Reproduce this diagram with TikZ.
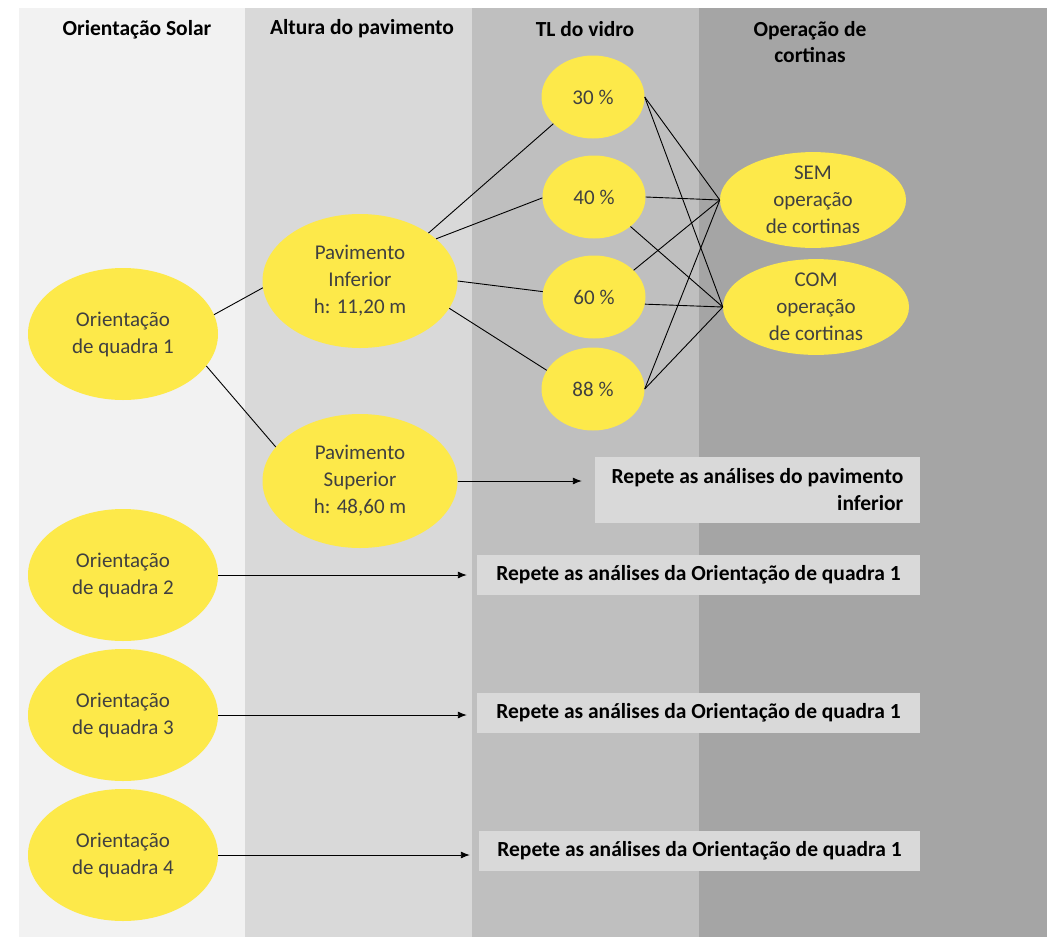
\documentclass[tikz,border=0pt]{standalone}
\usepackage{fontspec}
\setmainfont{Carlito}
\usetikzlibrary{shapes.geometric,arrows.meta}
\definecolor{bandA}{HTML}{F2F2F2}
\definecolor{bandB}{HTML}{D9D9D9}
\definecolor{bandC}{HTML}{BFBFBF}
\definecolor{bandD}{HTML}{A5A5A5}
\definecolor{yel}{HTML}{FDE94A}
\definecolor{txt}{HTML}{404040}
\definecolor{boxc}{HTML}{D9D9D9}
\tikzset{
  yelnode/.style={ellipse, fill=yel, inner sep=0pt, text=txt, align=center, font=\fontsize{21}{27}\selectfont},
  quadra/.style={yelnode, minimum width=190pt, minimum height=132pt},
  pav/.style={yelnode, minimum width=195pt, minimum height=134pt},
  tl/.style={yelnode, minimum width=103pt, minimum height=83pt},
  cort/.style={yelnode, minimum width=186pt, minimum height=91pt},
  header/.style={font=\bfseries\fontsize{21.5}{26}\selectfont, align=center, text=black},
  repbox/.style={fill=boxc, inner sep=0pt, font=\bfseries\fontsize{21.5}{27}\selectfont, text=black},
  link/.style={draw=black, line width=0.9pt},
  arr/.style={draw=black, line width=0.9pt, -{Latex[length=9pt,width=7pt]}}
}
\begin{document}
\begin{tikzpicture}[x=1pt,y=-1pt]
\useasboundingbox (0,0) rectangle (1047,937);
% bands
\fill[bandA] (19,8) rectangle (245,937);
\fill[bandB] (245,8) rectangle (472,937);
\fill[bandC] (472,8) rectangle (699,937);
\fill[bandD] (699,8) rectangle (1047,937);
% headers
\node[header] (h1) at (137,30) {Orientação Solar};
\node[header] (h2) at (362,29) {Altura do pavimento};
\node[header] (h3) at (585,29) {TL do vidro};
\node[header] (h4) at (810,42) {Operação de\\cortinas};
% ellipses
\node[quadra] (q1) at (123,334) {Orientação\\de quadra 1};
\node[quadra] (q2) at (123,575) {Orientação\\de quadra 2};
\node[quadra] (q3) at (123,715) {Orientação\\de quadra 3};
\node[quadra] (q4) at (123,855) {Orientação\\de quadra 4};
\node[pav] (pi) at (360,281) {Pavimento\\Inferior\\h: 11,20 m};
\node[pav] (ps) at (360,481) {Pavimento\\Superior\\h: 48,60 m};
\node[tl] (t30) at (593,97) {30 \%};
\node[tl] (t40) at (594,197) {40 \%};
\node[tl] (t60) at (594,297) {60 \%};
\node[tl] (t88) at (593,389) {88 \%};
\node[cort] (sem) at (813,200) {SEM\\operação\\de cortinas};
\node[cort] (com) at (816,307) {COM\\operação\\de cortinas};
% boxes
\node[repbox, minimum width=325pt, minimum height=66pt, align=right] (r1) at (757.5,490) {Repete as análises do pavimento\\inferior};
\node[repbox, minimum width=443pt, minimum height=40pt] (r2) at (698.5,575) {Repete as análises da Orientação de quadra 1};
\node[repbox, minimum width=443pt, minimum height=40pt] (r3) at (698.5,713) {Repete as análises da Orientação de quadra 1};
\node[repbox, minimum width=441pt, minimum height=40pt] (r4) at (699.5,851) {Repete as análises da Orientação de quadra 1};
% links
\draw[link] (q1.12) -- (pi.184);
\draw[link] (q1.339) -- (ps.158);
\draw[link] (pi.35) -- (t30.214);
\draw[link] (pi.29) -- (t40.181);
\draw[link] (pi.0) -- (t60.174);
\draw[link] (pi.343) -- (t88.158);
\draw[link] (t30.east) -- (sem.west);
\draw[link] (t30.east) -- (com.west);
\draw[link] (t40.east) -- (sem.west);
\draw[link] (t40.-39) -- (com.west);
\draw[link] (t60.34) -- (sem.west);
\draw[link] (t60.-8) -- (com.west);
\draw[link] (t88.east) -- (sem.west);
\draw[link] (t88.east) -- (com.west);
% arrows
\draw[arr] (ps.east) -- ([xshift=-13pt]r1.west |- ps.east);
\draw[arr] (q2.east) -- ([xshift=-10pt]r2.west |- q2.east);
\draw[arr] (q3.east) -- ([xshift=-10pt]r3.west |- q3.east);
\draw[arr] (q4.east) -- ([xshift=-9pt]r4.west |- q4.east);
\end{tikzpicture}
\end{document}
